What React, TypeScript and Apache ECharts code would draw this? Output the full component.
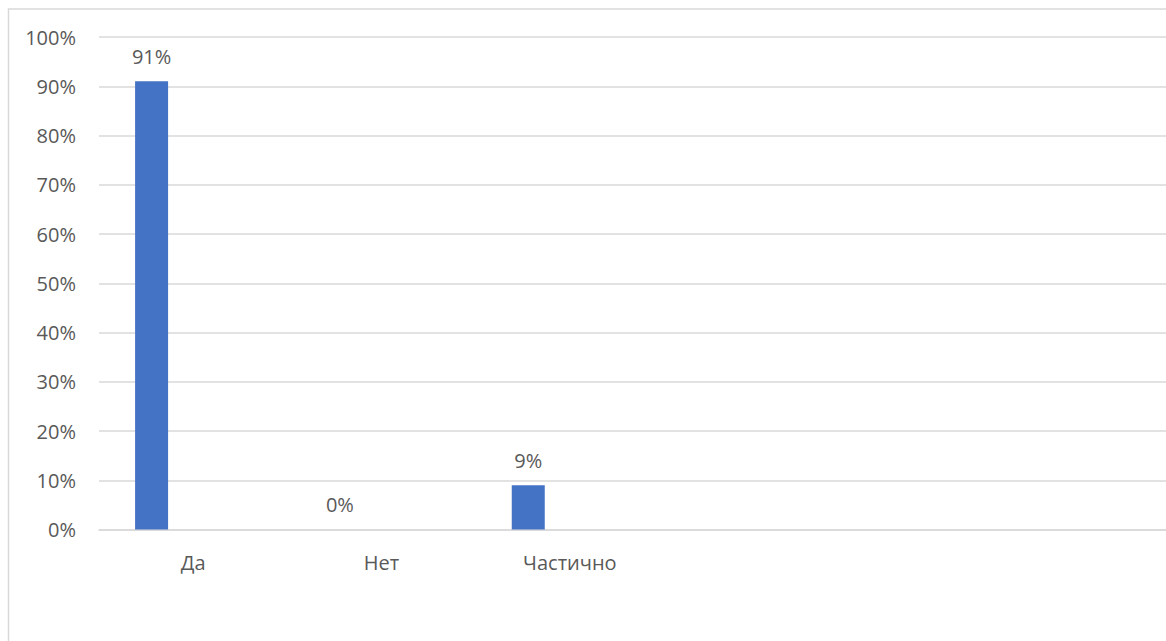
import React, { useEffect, useRef } from "react";
import * as echarts from "echarts";

const categories = ["Да", "Нет", "Частично"];
const emptyCategories = ["", "", ""];
const values = [91, 0, 9];
const series2: (number | null)[] = [null, null, null];
const series3: (number | null)[] = [null, null, null];
const yTicks = { min: 0, max: 100, interval: 10 };

const TEXT = "#595959";
const GRID = "#D9D9D9";
const BAR = "#4472C4";
const FONT = "'Open Sans', 'Noto Sans', sans-serif";

export default function App() {
  const ref = useRef<HTMLDivElement>(null);
  useEffect(() => {
    if (!ref.current) return;
    const chart = echarts.init(ref.current, null, { renderer: "svg" });
    chart.setOption({
      animation: false,
      backgroundColor: "#ffffff",
      textStyle: { fontFamily: FONT },
      graphic: [
        {
          type: "rect",
          shape: { x: 8.5, y: 9, width: 1300, height: 800 },
          style: { fill: "none", stroke: GRID, lineWidth: 1.5 },
          silent: true,
          z: -1,
        },
      ],
      grid: { left: 99, top: 37, width: 1130, bottom: 111.5, containLabel: false },
      xAxis: {
        type: "category",
        data: [...categories, ...emptyCategories],
        boundaryGap: true,
        axisLine: { show: true, lineStyle: { color: GRID, width: 1.5 } },
        axisTick: { show: false },
        axisLabel: {
          color: TEXT,
          fontSize: 20,
          fontFamily: FONT,
          margin: 23,
          lineHeight: 20,
          interval: 0,
        },
        splitLine: { show: false },
      },
      yAxis: {
        type: "value",
        min: yTicks.min,
        max: yTicks.max,
        interval: yTicks.interval,
        axisLine: { show: false },
        axisTick: { show: false },
        axisLabel: {
          color: TEXT,
          fontSize: 20,
          fontFamily: FONT,
          margin: 23,
          formatter: "{value}%",
        },
        splitLine: { show: true, lineStyle: { color: GRID, width: 1.5 } },
      },
      series: [
        {
          name: "Ряд1",
          type: "bar",
          data: values,
          barWidth: 33,
          barGap: "26%",
          itemStyle: { color: BAR },
          label: {
            show: true,
            position: "top",
            distance: 15,
            formatter: "{c}%",
            color: TEXT,
            fontSize: 20,
            fontFamily: FONT,
          },
        },
        { name: "Ряд2", type: "bar", data: series2, barWidth: 33, barGap: "26%" },
        { name: "Ряд3", type: "bar", data: series3, barWidth: 33, barGap: "26%" },
      ],
    });
    return () => chart.dispose();
  }, []);
  return (
    <div
      style={{
        position: "fixed",
        left: 0,
        top: 0,
        width: 1166,
        height: 641,
        overflow: "hidden",
        background: "#fff",
      }}
    >
      <div ref={ref} style={{ width: 1240, height: 641 }} />
    </div>
  );
}
